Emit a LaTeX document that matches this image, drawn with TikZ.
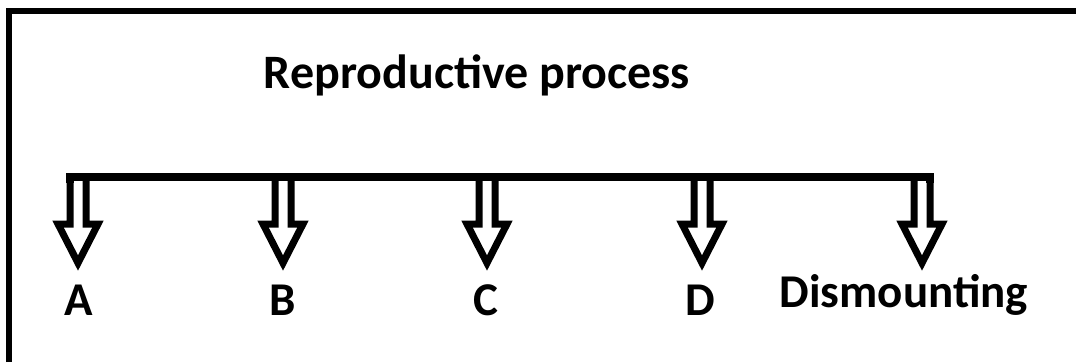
\documentclass[tikz,border=0pt]{standalone}
\usepackage{fontspec}
\setmainfont{Carlito}
\begin{document}
\begin{tikzpicture}[x=1pt,y=-1pt,
  frameline/.style={line width=6pt},
  barline/.style={line width=7.5pt,miter limit=10},
  openarrow/.style={line width=7pt,miter limit=10},
  lbl/.style={font=\bfseries\fontsize{47}{50}\selectfont,inner sep=0pt,anchor=base}]
\useasboundingbox (0,0) rectangle (1076,362);
% frame (top and left edges only)
\draw[frameline] (9,362) -- (9,11) -- (1076,11);
% title
\node[lbl,font=\bfseries\fontsize{48}{50}\selectfont] (title) at (477,88) {Reproductive process};
% arrow positions
\coordinate (pA) at (78,177);
\coordinate (pB) at (283,177);
\coordinate (pC) at (487,177);
\coordinate (pD) at (702,177);
\coordinate (pE) at (922,177);
% horizontal bar
\draw[barline] ([xshift=-8pt]pA) ++(0,6) -- ([xshift=-8pt]pA) -- ([xshift=8pt]pE) -- ++(0,6);
% open arrows
\foreach \p in {pA,pB,pC,pD,pE}{
  \draw[openarrow] ([xshift=-8pt]\p) -- ++(0,47) -- ++(-12,0) -- ++(20,39) -- ++(20,-39) -- ++(-12,0) -- ++(0,-47);
}
% labels
\node[lbl] (A) at (79,315) {A};
\node[lbl] (B) at (283,315) {B};
\node[lbl] (C) at (486,315) {C};
\node[lbl] (D) at (700,315) {D};
\node[lbl] (dis) at (904,307) {Dismounting};
\end{tikzpicture}
\end{document}
